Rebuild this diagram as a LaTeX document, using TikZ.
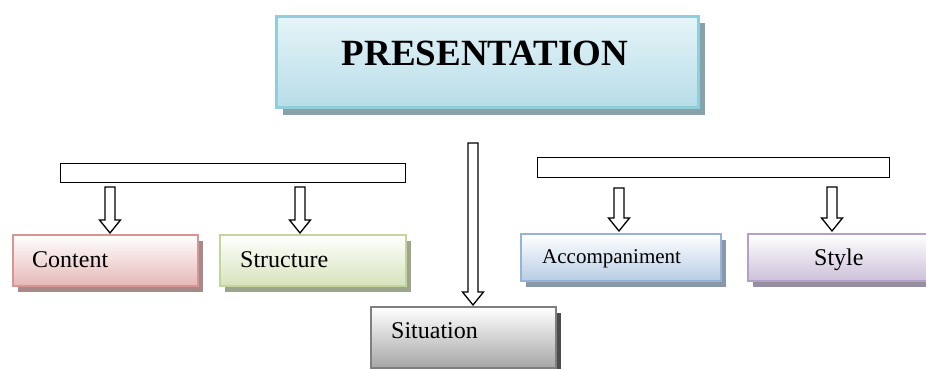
\documentclass[tikz,border=0pt]{standalone}
\usepackage{fontspec}
\setmainfont{Liberation Serif}
\usetikzlibrary{shadows,calc}
\definecolor{presB}{HTML}{92CDDC}
\definecolor{presT}{HTML}{E6F4F8}
\definecolor{presM}{HTML}{F7FBFC}
\definecolor{presE}{HTML}{B7DDE8}
\definecolor{conB}{HTML}{D99594}
\definecolor{conE}{HTML}{E5B8B7}
\definecolor{strB}{HTML}{C2D69B}
\definecolor{strE}{HTML}{D6E3BC}
\definecolor{accB}{HTML}{95B3D7}
\definecolor{accE}{HTML}{B8CCE4}
\definecolor{styB}{HTML}{B2A1C7}
\definecolor{styE}{HTML}{CCC0D9}
\definecolor{sitB}{HTML}{7F7F7F}
\definecolor{sitE}{HTML}{A6A6A6}
\tikzset{
  gbox/.style n args={3}{draw=#1, line width=2.2pt, top color=white, bottom color=#2,
    general shadow={shadow xshift=5pt, shadow yshift=-6pt, fill=#3},
    rectangle, inner sep=0pt, anchor=north west},
  lbl/.style={anchor=base west, inner sep=0pt, font=\fontsize{24}{28}\selectfont},
  barbox/.style={draw=black, line width=1.4pt, fill=white, anchor=north west, inner sep=0pt},
  blk/.style={draw=black, line width=1.3pt, fill=white, line join=miter}
}
\newcommand\blockarr[2]{%
  \draw[blk] let \p1=(#1), \p2=(#2) in
    ({\x1-5pt},\y1) -- ({\x1+5pt},\y1) -- ({\x1+5pt},{\y2+13pt}) -- ({\x1+10.5pt},{\y2+13pt})
    -- (\x1,\y2) -- ({\x1-10.5pt},{\y2+13pt}) -- ({\x1-5pt},{\y2+13pt}) -- cycle;}
\begin{document}
\begin{tikzpicture}[x=1pt,y=-1pt]
\useasboundingbox (0,0) rectangle (926,369);
\begin{scope}
\clip (0,0) rectangle (926,369);
% top box
\node[draw=presB, line width=3pt, top color=presT, middle color=presM, bottom color=presE,
  general shadow={shadow xshift=6pt, shadow yshift=-7pt, fill=presB!45!gray},
  rectangle, inner sep=0pt, anchor=north west, minimum width=422pt, minimum height=91pt] (pres) at (275,15) {};
\node[anchor=base, inner sep=0pt, font=\fontsize{37}{40}\selectfont\bfseries] (presT) at (485,66) {PRESENTATION};
% bars
\node[barbox, minimum width=345pt, minimum height=19pt] (lbar) at (60,163) {};
\node[barbox, minimum width=352pt, minimum height=20pt] (rbar) at (537,157) {};
% boxes
\node[gbox={conB}{conE}{conB!45!gray}, minimum width=185pt, minimum height=51pt] (content) at (12,234) {};
\node[gbox={strB}{strE}{strB!45!gray}, minimum width=186pt, minimum height=51pt] (structure) at (219,234) {};
\node[gbox={accB}{accE}{accB!45!gray}, minimum width=200pt, minimum height=47pt] (accomp) at (520,233) {};
\node[gbox={styB}{styE}{styB!45!gray}, minimum width=184pt, minimum height=47pt] (style) at (747,233) {};
\node[gbox={sitB}{sitE}{sitB!60!black}, minimum width=185pt, minimum height=61pt] (situation) at (370,306) {};
% labels
\node[lbl] (contentT) at (32,267) {Content};
\node[lbl] (structureT) at (240,267) {Structure};
\node[lbl, font=\fontsize{21}{25}\selectfont] (accompT) at (542,263) {Accompaniment};
\node[lbl] (styleT) at (814,265) {Style};
\node[lbl] (situationT) at (391,338) {Situation};
% arrows
\coordinate (a1s) at (110,187); \coordinate (a1e) at (110,233);
\coordinate (a2s) at (300,187); \coordinate (a2e) at (300,233);
\coordinate (a3s) at (619,188); \coordinate (a3e) at (619,231);
\coordinate (a4s) at (832,187); \coordinate (a4e) at (832,231);
\coordinate (a5s) at (473,143); \coordinate (a5e) at (473,305);
\blockarr{a1s}{a1e}
\blockarr{a2s}{a2e}
\blockarr{a3s}{a3e}
\blockarr{a4s}{a4e}
\blockarr{a5s}{a5e}
\end{scope}
\end{tikzpicture}
\end{document}
